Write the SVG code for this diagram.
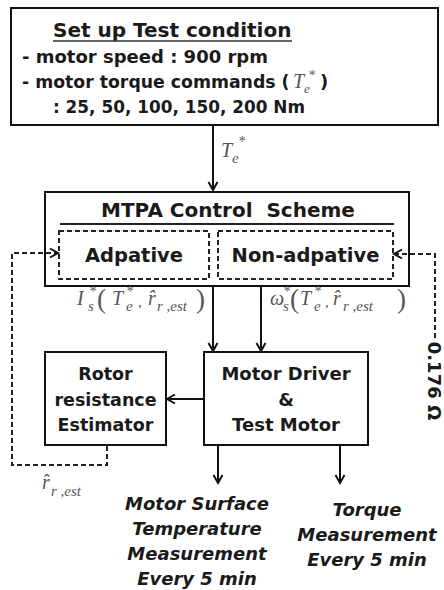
<svg xmlns="http://www.w3.org/2000/svg" width="444" height="590" viewBox="0 0 444 590">
<style>
.box{fill:#fff;stroke:#111;stroke-width:2}
.dbox{fill:none;stroke:#222;stroke-width:2;stroke-dasharray:5 3}
.t{font-family:"DejaVu Sans",sans-serif;font-weight:bold;fill:#1a1a1a}
.c{text-anchor:middle}
.it{font-style:italic}
.m{font-family:"Liberation Serif","Times New Roman",serif;font-style:italic;font-weight:normal;fill:#555}
.p{font-style:normal}
.w{stroke:#111;stroke-width:2;fill:none}
.dw{stroke:#222;stroke-width:2;fill:none;stroke-dasharray:5 3}
</style>
<defs>
<marker id="ah" markerUnits="userSpaceOnUse" markerWidth="12" markerHeight="12" refX="9" refY="5" orient="auto" viewBox="0 0 12 10">
<path d="M1,0.5 L9,5 L1,9.5" fill="none" stroke="#111" stroke-width="2"/>
</marker>
</defs>
<rect width="444" height="590" fill="#fff"/>

<g id="test-condition">
<rect class="box" x="11" y="8" width="427" height="117"/>
<text class="t" x="53" y="37" font-size="20">Set up Test condition</text>
<line x1="53" y1="41" x2="292" y2="41" stroke="#333" stroke-width="1.5"/>
<text class="t" x="22" y="63" font-size="18">- motor speed : 900 rpm</text>
<text class="t" x="22" y="88" font-size="17.3">- motor torque commands (<tspan class="m" x="293" y="88" font-size="20">T</tspan><tspan class="m" x="308" y="80" font-size="14">*</tspan><tspan class="m" x="304" y="93" font-size="13">e</tspan><tspan x="320" y="88" font-size="18">)</tspan></text>
<text class="t" x="53" y="113" font-size="18" textLength="252" lengthAdjust="spacingAndGlyphs">: 25, 50, 100, 150, 200 Nm</text>
</g>

<g id="mtpa">
<rect class="box" x="45" y="192" width="364" height="94"/>
<text class="t c" x="228" y="217" font-size="20" xml:space="preserve">MTPA Control  Scheme</text>
<line x1="60" y1="224" x2="394" y2="224" stroke="#222" stroke-width="2"/>
</g>
<g id="adaptive">
<rect class="dbox" x="59" y="231" width="150" height="48"/>
<text class="t c" x="134" y="262" font-size="19.5">Adpative</text>
</g>
<g id="non-adaptive">
<rect class="dbox" x="218" y="231" width="175" height="48"/>
<text class="t c" x="305.5" y="262" font-size="19.5">Non-adpative</text>
</g>

<g id="estimator">
<rect class="box" x="45" y="352" width="121" height="93"/>
<text class="t c" x="105.5" y="380" font-size="17.5">Rotor</text>
<text class="t c" x="105.5" y="406" font-size="17.5">resistance</text>
<text class="t c" x="105.5" y="431" font-size="17.5">Estimator</text>
</g>

<g id="motor-driver">
<rect class="box" x="204" y="352" width="164" height="93"/>
<text class="t c" x="286" y="380" font-size="18">Motor Driver</text>
<text class="t c" x="286" y="406" font-size="18">&amp;</text>
<text class="t c" x="286" y="431" font-size="18">Test Motor</text>
</g>

<g id="temperature">
<text class="t c it" x="197" y="510" font-size="18">Motor Surface</text>
<text class="t c it" x="197" y="535" font-size="18">Temperature</text>
<text class="t c it" x="197" y="560" font-size="18">Measurement</text>
<text class="t c it" x="197" y="585" font-size="18">Every 5 min</text>
</g>

<g id="torque">
<text class="t c it" x="367" y="516" font-size="18">Torque</text>
<text class="t c it" x="367" y="541" font-size="18">Measurement</text>
<text class="t c it" x="367" y="566" font-size="18">Every 5 min</text>
</g>

<g id="connectors">
<line class="w" x1="213" y1="125" x2="213" y2="190" marker-end="url(#ah)"/>
<line class="w" x1="213" y1="286" x2="213" y2="351" marker-end="url(#ah)"/>
<line class="w" x1="261" y1="286" x2="261" y2="351" marker-end="url(#ah)"/>
<line class="w" x1="204" y1="399" x2="167" y2="399" marker-end="url(#ah)"/>
<line class="w" x1="218" y1="445" x2="218" y2="483" marker-end="url(#ah)"/>
<line class="w" x1="340" y1="445" x2="340" y2="483" marker-end="url(#ah)"/>
<path class="dw" d="M107,446 V465 H12 V253 H58" marker-end="url(#ah)"/>
<path class="dw" d="M435,338 V254 H394" marker-end="url(#ah)"/>
<text class="m" font-size="20"><tspan x="221" y="157">T</tspan><tspan x="238" y="146" font-size="14">*</tspan><tspan x="232" y="163" font-size="15">e</tspan></text>
<text class="m" font-size="20"><tspan x="77" y="305">I</tspan><tspan x="89" y="296" font-size="14">*</tspan><tspan x="88" y="311" font-size="15">s</tspan><tspan class="p" x="97" y="308" font-size="27">(</tspan><tspan x="112" y="305">T</tspan><tspan x="126" y="296" font-size="14">*</tspan><tspan x="126" y="311" font-size="15">e</tspan><tspan x="138" y="307" font-size="15">,</tspan><tspan x="148" y="305">r̂</tspan><tspan x="157" y="311" font-size="15">r ,est</tspan><tspan class="p" x="196" y="308" font-size="27">)</tspan></text>
<text class="m" font-size="20"><tspan x="270" y="305">ω</tspan><tspan x="283" y="296" font-size="14">*</tspan><tspan x="283" y="311" font-size="15">s</tspan><tspan class="p" x="290" y="308" font-size="27">(</tspan><tspan x="300" y="305">T</tspan><tspan x="314" y="296" font-size="14">*</tspan><tspan x="314" y="311" font-size="15">e</tspan><tspan x="325" y="307" font-size="15">,</tspan><tspan x="333" y="305">r̂</tspan><tspan x="343" y="311" font-size="15">r ,est</tspan><tspan class="p" x="397" y="308" font-size="27">)</tspan></text>
<text class="m" font-size="20"><tspan x="42" y="489">r̂</tspan><tspan x="51" y="496" font-size="15">r ,est</tspan></text>
<text class="t" font-size="18" transform="translate(428,381) rotate(90)" text-anchor="middle">0.176 Ω</text>
</g>
</svg>
